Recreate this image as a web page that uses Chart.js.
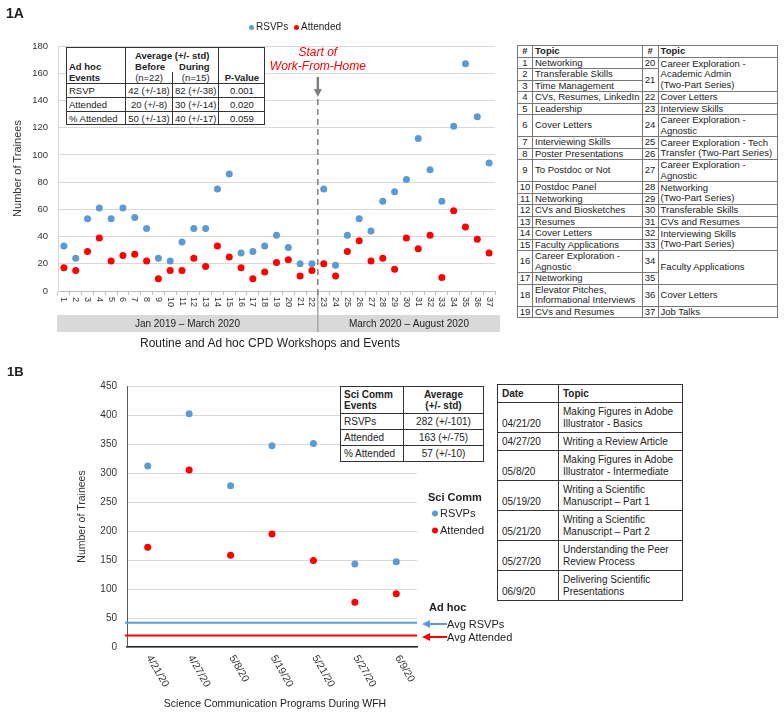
<!DOCTYPE html>
<html lang="en">
<head>
<meta charset="UTF-8" />
<title>CPD Workshops and Science Communication Programs</title>
<script src="https://cdn.jsdelivr.net/npm/chart.js"></script>
<style>
  body {
    margin: 0;
    width: 784px;
    height: 716px;
    position: relative;
    overflow: hidden;
    background: #fff;
    color: #222;
    font-family: 'Liberation Sans', Arial, sans-serif;
  }
  canvas { position: absolute; left: 0; z-index: 1; }
  .lbl { position: absolute; white-space: nowrap; line-height: 1; transform: translateY(-50%); z-index: 2; }
  .b { font-weight: bold; }
  .c { text-align: center; }
  .dot { display: inline-block; border-radius: 50%; vertical-align: middle; margin-right: 2px; }
  table { position: absolute; border-collapse: collapse; background: #fff; z-index: 3; white-space: nowrap; }
  td { padding: 0 2px; }
  #adhocStats { left: 66px; top: 47px; font-size: 9.5px; line-height: 11px; border: 1.5px solid #222; }
  #adhocStats td { border: 1px solid #333; }
  #adhocStats .half { display: inline-block; width: 50%; text-align: center; }
  #topicsA { left: 517px; top: 45px; font-size: 9.5px; line-height: 10.5px; border: 1px solid #555; }
  #topicsA td { border: 1px solid #777; vertical-align: middle; }
  #topicsA td.n { text-align: center; padding: 0 1px; }
  #sciStats { left: 340px; top: 386px; font-size: 10px; line-height: 11px; border: 1.5px solid #222; }
  #sciStats td { border: 1px solid #333; padding: 0 3px; }
  #topicsB { left: 497px; top: 384px; font-size: 10px; line-height: 11.5px; border: 1.5px solid #222; }
  #topicsB td { border: 1px solid #333; padding: 0 4px; vertical-align: middle; }
  #topicsB td.d { vertical-align: bottom; padding-bottom: 3px; }
  #topicsB tr.s { height: 18px; }
  #topicsB tr.w { height: 30px; }
</style>
</head>
<body>
  <div class="lbl b" style="left:6px; top:13px; font-size:14px;">1A</div>
  <div class="lbl" style="left:249px; top:27px; font-size:10px;">
    <span class="dot" style="width:5px;height:5px;background:#5b9bd5;"></span>RSVPs
    <span class="dot" style="width:5px;height:5px;background:#ff0000;margin-left:3px;"></span>Attended
  </div>
  <div class="lbl c" style="left:70px; width:400px; top:343px; font-size:12px;">Routine and Ad hoc CPD Workshops and Events</div>
  <canvas id="chartA" width="520" height="360" style="top:0;"></canvas>

  <table id="adhocStats">
    <colgroup><col style="width:59px"><col style="width:47px"><col style="width:46px"><col style="width:46px"></colgroup>
    <tr style="height:24px">
      <td rowspan="2" class="b" style="vertical-align:bottom;">Ad hoc<br>Events</td>
      <td colspan="2" class="b c" style="border-bottom:none;vertical-align:bottom;">Average (+/- std)<br><span class="half">Before</span><span class="half">During</span></td>
      <td rowspan="2" class="b c" style="vertical-align:bottom;">P-Value</td>
    </tr>
    <tr style="height:12px"><td class="c" style="border-top:none;">(n=22)</td><td class="c" style="border-top:none;">(n=15)</td></tr>
    <tr style="height:14px"><td>RSVP</td><td class="c">42 (+/-18)</td><td class="c">82 (+/-38)</td><td class="c">0.001</td></tr>
    <tr style="height:14px"><td>Attended</td><td class="c">20 (+/-8)</td><td class="c">30 (+/-14)</td><td class="c">0.020</td></tr>
    <tr style="height:13px"><td>% Attended</td><td class="c">50 (+/-13)</td><td class="c">40 (+/-17)</td><td class="c">0.059</td></tr>
  </table>

  <table id="topicsA">
    <colgroup><col style="width:15px"><col style="width:107px"><col style="width:16px"><col style="width:119px"></colgroup>
    <tr class="b"><td class="n">#</td><td>Topic</td><td class="n">#</td><td>Topic</td></tr>
    <tr><td class="n">1</td><td>Networking</td><td class="n">20</td><td rowspan="3">Career Exploration -<br>Academic Admin<br>(Two-Part Series)</td></tr>
    <tr><td class="n">2</td><td>Transferable Skills</td><td class="n" rowspan="2">21</td></tr>
    <tr><td class="n">3</td><td>Time Management</td></tr>
    <tr><td class="n">4</td><td>CVs, Resumes, LinkedIn</td><td class="n">22</td><td>Cover Letters</td></tr>
    <tr><td class="n">5</td><td>Leadership</td><td class="n">23</td><td>Interview Skills</td></tr>
    <tr><td class="n">6</td><td>Cover Letters</td><td class="n">24</td><td>Career Exploration -<br>Agnostic</td></tr>
    <tr><td class="n">7</td><td>Interviewing Skills</td><td class="n">25</td><td rowspan="2">Career Exploration - Tech<br>Transfer (Two-Part Series)</td></tr>
    <tr><td class="n">8</td><td>Poster Presentations</td><td class="n">26</td></tr>
    <tr><td class="n">9</td><td>To Postdoc or Not</td><td class="n">27</td><td>Career Exploration -<br>Agnostic</td></tr>
    <tr><td class="n">10</td><td>Postdoc Panel</td><td class="n">28</td><td rowspan="2">Networking<br>(Two-Part Series)</td></tr>
    <tr><td class="n">11</td><td>Networking</td><td class="n">29</td></tr>
    <tr><td class="n">12</td><td>CVs and Biosketches</td><td class="n">30</td><td>Transferable Skills</td></tr>
    <tr><td class="n">13</td><td>Resumes</td><td class="n">31</td><td>CVs and Resumes</td></tr>
    <tr><td class="n">14</td><td>Cover Letters</td><td class="n">32</td><td rowspan="2">Interviewing Skills<br>(Two-Part Series)</td></tr>
    <tr><td class="n">15</td><td>Faculty Applications</td><td class="n">33</td></tr>
    <tr><td class="n">16</td><td>Career Exploration -<br>Agnostic</td><td class="n">34</td><td rowspan="2">Faculty Applications</td></tr>
    <tr><td class="n">17</td><td>Networking</td><td class="n">35</td></tr>
    <tr><td class="n">18</td><td>Elevator Pitches,<br>Informational Interviews</td><td class="n">36</td><td>Cover Letters</td></tr>
    <tr><td class="n">19</td><td>CVs and Resumes</td><td class="n">37</td><td>Job Talks</td></tr>
  </table>

  <div class="lbl b" style="left:7px; top:371px; font-size:13px;">1B</div>
  <canvas id="chartB" width="500" height="356" style="top:360px;"></canvas>

  <table id="sciStats">
    <colgroup><col style="width:63px"><col style="width:80px"></colgroup>
    <tr style="height:27px"><td class="b">Sci Comm<br>Events</td><td class="b c">Average<br>(+/- std)</td></tr>
    <tr style="height:16px"><td>RSVPs</td><td class="c">282 (+/-101)</td></tr>
    <tr style="height:16px"><td>Attended</td><td class="c">163 (+/-75)</td></tr>
    <tr style="height:16px"><td>% Attended</td><td class="c">57 (+/-10)</td></tr>
  </table>

  <div class="lbl b" style="left:428px; top:497px; font-size:11px;">Sci Comm</div>
  <div class="lbl" style="left:432px; top:513px; font-size:11px;"><span class="dot" style="width:6px;height:6px;background:#5b9bd5;"></span>RSVPs</div>
  <div class="lbl" style="left:432px; top:530px; font-size:11px;"><span class="dot" style="width:6px;height:6px;background:#ff0000;"></span>Attended</div>
  <div class="lbl b" style="left:429px; top:607px; font-size:11px;">Ad hoc</div>
  <svg style="position:absolute; left:418px; top:615px; z-index:2;" width="30" height="30">
    <line x1="10" y1="9" x2="29" y2="9" stroke="#5b9bd5" stroke-width="2" />
    <polygon points="4,9 12,5 12,13" fill="#5b9bd5" />
    <line x1="10" y1="22" x2="29" y2="22" stroke="#ff0000" stroke-width="2" />
    <polygon points="4,22 12,18 12,26" fill="#ff0000" />
  </svg>
  <div class="lbl" style="left:447px; top:624px; font-size:11px;">Avg RSVPs</div>
  <div class="lbl" style="left:447px; top:637px; font-size:11px;">Avg Attended</div>
  <div class="lbl c" style="left:75px; width:400px; top:703px; font-size:10.5px;">Science Communication Programs During WFH</div>

  <table id="topicsB">
    <colgroup><col style="width:61px"><col style="width:124px"></colgroup>
    <tr class="s b"><td>Date</td><td>Topic</td></tr>
    <tr class="w"><td class="d">04/21/20</td><td>Making Figures in Adobe<br>Illustrator - Basics</td></tr>
    <tr class="s"><td class="d">04/27/20</td><td>Writing a Review Article</td></tr>
    <tr class="w"><td class="d">05/8/20</td><td>Making Figures in Adobe<br>Illustrator - Intermediate</td></tr>
    <tr class="w"><td class="d">05/19/20</td><td>Writing a Scientific<br>Manuscript – Part 1</td></tr>
    <tr class="w"><td class="d">05/21/20</td><td>Writing a Scientific<br>Manuscript – Part 2</td></tr>
    <tr class="w"><td class="d">05/27/20</td><td>Understanding the Peer<br>Review Process</td></tr>
    <tr class="w"><td class="d">06/9/20</td><td>Delivering Scientific<br>Presentations</td></tr>
  </table>

  <script>
    // 1A: routine and ad hoc CPD events, numbered 1-37
    const workshopLabels = ['1', '2', '3', '4', '5', '6', '7', '8', '9', '10', '11', '12', '13', '14', '15', '16', '17', '18', '19',
      '20', '21', '22', '23', '24', '25', '26', '27', '28', '29', '30', '31', '32', '33', '34', '35', '36', '37'];
    const adhocRsvps = [33, 24, 53, 61, 53, 61, 54, 46, 24, 22, 36, 46, 46, 75, 86, 28, 29, 33, 41, 32, 20, 20,
      75, 19, 41, 53, 44, 66, 73, 82, 112, 89, 66, 121, 167, 128, 94];
    const adhocAttended = [17, 15, 29, 39, 22, 26, 27, 22, 9, 15, 15, 24, 18, 33, 25, 17, 9, 14, 21, 23, 11, 15,
      20, 11, 29, 37, 22, 24, 16, 39, 31, 41, 10, 59, 47, 38, 28];
    const periodLabels = ['Jan 2019 – March 2020', 'March 2020 – August 2020'];
    const lastEventBeforeWfh = 22;

    // 1B: science communication programs during WFH
    const sciCommDates = ['4/21/20', '4/27/20', '5/8/20', '5/19/20', '5/21/20', '5/27/20', '6/9/20'];
    const sciCommRsvps = [312, 402, 278, 347, 351, 143, 147];
    const sciCommAttended = [172, 305, 158, 195, 149, 77, 92];
    const adhocAvgRsvp = 42;
    const adhocAvgAttended = 20;

    const FONT = '"Liberation Sans", Arial, sans-serif';
    Chart.defaults.font.family = FONT;
    Chart.defaults.color = '#333';

    const blue = '#5b9bd5';
    const red = '#ff0000';

    function dots(color) {
      return { showLine: false, pointRadius: 3.5, pointHoverRadius: 3.5, pointBackgroundColor: color, pointBorderWidth: 0 };
    }

    const wfhMarker = {
      id: 'wfhMarker',
      afterDraw(chart) {
        const { ctx, chartArea, scales } = chart;
        const x = scales.x;
        ctx.save();

        // event numbers, turned to read downward
        ctx.font = '9px ' + FONT;
        ctx.fillStyle = '#333';
        ctx.textAlign = 'left';
        ctx.textBaseline = 'middle';
        workshopLabels.forEach((lab, i) => {
          ctx.save();
          ctx.translate(x.getPixelForValue(i), chartArea.bottom + 6);
          ctx.rotate(Math.PI / 2);
          ctx.fillText(lab, 0, 0);
          ctx.restore();
        });

        const split = (x.getPixelForValue(lastEventBeforeWfh - 1) + x.getPixelForValue(lastEventBeforeWfh)) / 2;

        // period band
        const bandL = chartArea.left - 1, bandR = chartArea.right + 5, bandT = 315, bandB = 332;
        ctx.fillStyle = '#d9d9d9';
        ctx.fillRect(bandL, bandT, bandR - bandL, bandB - bandT);
        ctx.strokeStyle = '#a6a6a6';
        ctx.lineWidth = 1.5;
        ctx.beginPath();
        ctx.moveTo(split, chartArea.bottom);
        ctx.lineTo(split, bandB);
        ctx.stroke();
        ctx.fillStyle = '#222';
        ctx.font = '10px ' + FONT;
        ctx.textAlign = 'center';
        ctx.fillText(periodLabels[0], (bandL + split) / 2, (bandT + bandB) / 2 + 1);
        ctx.fillText(periodLabels[1], (split + bandR) / 2, (bandT + bandB) / 2 + 1);

        // start of WFH marker
        ctx.strokeStyle = '#7f7f7f';
        ctx.lineWidth = 1.5;
        ctx.setLineDash([6, 4]);
        ctx.beginPath();
        ctx.moveTo(split, 99);
        ctx.lineTo(split, chartArea.bottom + 4);
        ctx.stroke();
        ctx.setLineDash([]);
        ctx.lineWidth = 2.5;
        ctx.beginPath();
        ctx.moveTo(split, 77);
        ctx.lineTo(split, 90);
        ctx.stroke();
        ctx.fillStyle = '#7f7f7f';
        ctx.beginPath();
        ctx.moveTo(split - 4, 89);
        ctx.lineTo(split + 4, 89);
        ctx.lineTo(split, 97);
        ctx.closePath();
        ctx.fill();

        ctx.fillStyle = red;
        ctx.font = 'italic 12px ' + FONT;
        ctx.fillText('Start of', split, 53);
        ctx.fillText('Work-From-Home', split, 67);
        ctx.restore();
      }
    };

    new Chart(document.getElementById('chartA'), {
      type: 'line',
      data: {
        labels: workshopLabels,
        datasets: [
          { label: 'RSVPs', data: adhocRsvps, ...dots(blue) },
          { label: 'Attended', data: adhocAttended, ...dots(red) }
        ]
      },
      options: {
        responsive: false,
        animation: false,
        layout: { padding: { left: 0, top: 46, right: 25, bottom: 0 } },
        plugins: { legend: { display: false }, tooltip: { enabled: false } },
        scales: {
          x: {
            offset: true,
            grid: { offset: true, drawOnChartArea: false, tickLength: 4, color: '#bfbfbf' },
            border: { color: '#bfbfbf' },
            ticks: { display: false },
            afterFit(scale) { scale.height = 69; }
          },
          y: {
            min: 0,
            max: 180,
            ticks: { stepSize: 20, padding: 10, font: { size: 9.5 } },
            grid: { color: '#d9d9d9', drawTicks: false },
            border: { color: '#d9d9d9' },
            title: { display: true, text: 'Number of Trainees', font: { size: 11 }, padding: { top: 11, bottom: 0 } },
            afterFit(scale) { scale.width = 58; }
          }
        }
      },
      plugins: [wfhMarker]
    });

    const adhocAverages = {
      id: 'adhocAverages',
      beforeDatasetsDraw(chart) {
        const { ctx, chartArea, scales } = chart;
        ctx.save();
        ctx.lineWidth = 2;
        [[adhocAvgRsvp, blue], [adhocAvgAttended, red]].forEach(([v, color]) => {
          const yy = scales.y.getPixelForValue(v);
          ctx.strokeStyle = color;
          ctx.beginPath();
          ctx.moveTo(chartArea.left - 2, yy);
          ctx.lineTo(chartArea.right, yy);
          ctx.stroke();
        });
        ctx.restore();
      },
      afterDraw(chart) {
        const { ctx, chartArea, scales } = chart;
        ctx.save();
        ctx.font = '10.5px ' + FONT;
        ctx.fillStyle = '#333';
        ctx.textAlign = 'left';
        ctx.textBaseline = 'middle';
        sciCommDates.forEach((lab, i) => {
          ctx.save();
          ctx.translate(scales.x.getPixelForValue(i) + 1, chartArea.bottom + 9);
          ctx.rotate(Math.PI / 3);
          ctx.fillText(lab, 0, 0);
          ctx.restore();
        });
        ctx.restore();
      }
    };

    new Chart(document.getElementById('chartB'), {
      type: 'line',
      data: {
        labels: sciCommDates,
        datasets: [
          { label: 'RSVPs', data: sciCommRsvps, ...dots(blue) },
          { label: 'Attended', data: sciCommAttended, ...dots(red) }
        ]
      },
      options: {
        responsive: false,
        animation: false,
        layout: { padding: { left: 0, top: 26, right: 83, bottom: 0 } },
        plugins: { legend: { display: false }, tooltip: { enabled: false } },
        scales: {
          x: {
            offset: true,
            grid: { display: false },
            border: { color: '#222', width: 1.5 },
            ticks: { display: false },
            afterFit(scale) { scale.height = 69; }
          },
          y: {
            min: 0,
            max: 450,
            ticks: { stepSize: 50, padding: 10, font: { size: 10 } },
            grid: { color: '#d9d9d9', drawTicks: false },
            border: { color: '#595959' },
            title: { display: true, text: 'Number of Trainees', font: { size: 10.5 }, padding: { top: 76, bottom: 0 } },
            afterFit(scale) { scale.width = 127; }
          }
        }
      },
      plugins: [adhocAverages]
    });
  </script>
</body>
</html>
